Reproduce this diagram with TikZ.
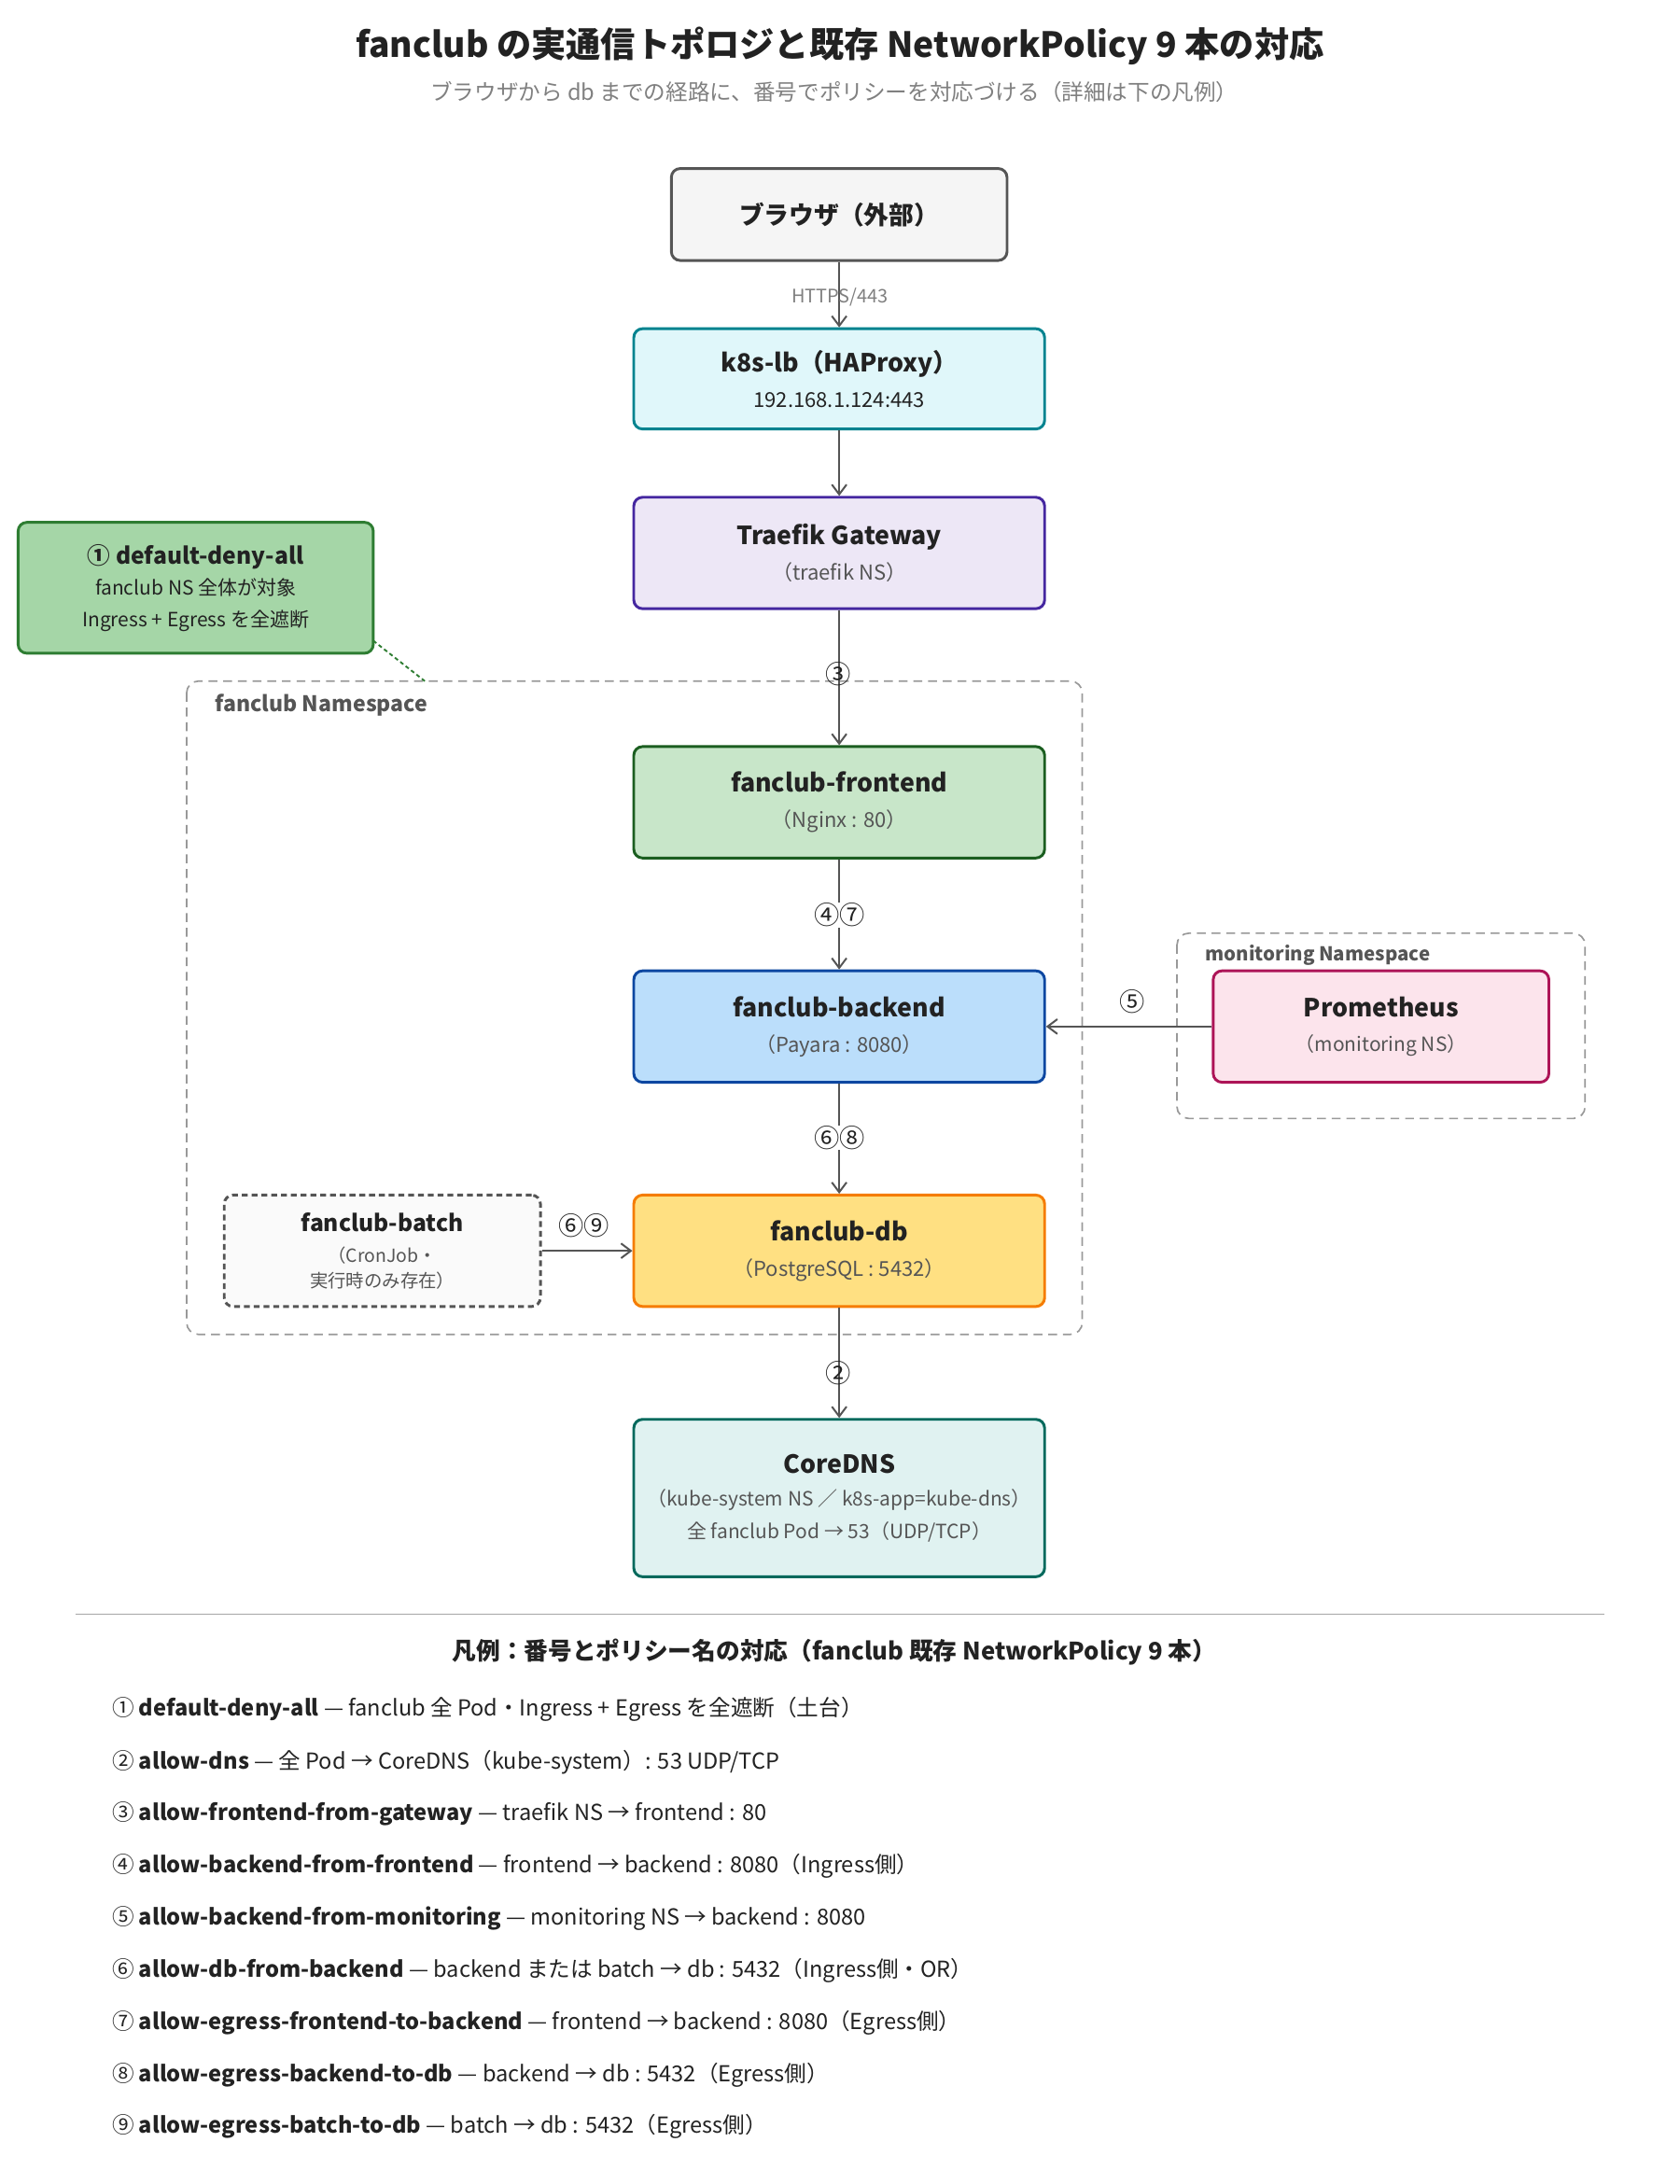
\documentclass[tikz,border=0pt]{standalone}
\usepackage{fontspec}
\setmainfont{Noto Sans CJK JP}
\usetikzlibrary{arrows.meta}
\definecolor{ln}{HTML}{555555}
\definecolor{txt}{HTML}{222222}
\definecolor{sub}{HTML}{555555}
\definecolor{lbD}{HTML}{00838F}\definecolor{lbF}{HTML}{E0F7FA}
\definecolor{trD}{HTML}{4527A0}\definecolor{trF}{HTML}{EDE7F6}
\definecolor{ddD}{HTML}{2E7D32}\definecolor{ddF}{HTML}{A5D6A7}
\definecolor{feD}{HTML}{1B5E20}\definecolor{feF}{HTML}{C8E6C9}
\definecolor{beD}{HTML}{0D47A1}\definecolor{beF}{HTML}{BBDEFB}
\definecolor{prD}{HTML}{AD1457}\definecolor{prF}{HTML}{FCE4EC}
\definecolor{dbD}{HTML}{F57C00}\definecolor{dbF}{HTML}{FFE082}
\definecolor{dnD}{HTML}{00695C}\definecolor{dnF}{HTML}{E0F2F1}
\begin{document}
\begin{tikzpicture}[x=0.05cm,y=-0.05cm,
  box/.style={draw, line width=2.8pt, rounded corners=9pt, align=center, text=txt, inner sep=0pt, font=\fontsize{21}{36}\selectfont},
  arr/.style={draw=ln, line width=1.9pt, -{Straight Barb[length=10pt,width=15pt,line width=1.9pt]}},
  num/.style={font=\fontsize{26}{28}\selectfont, text=txt, inner sep=0.5pt, fill=white},
  ns/.style={draw=gray!80, dash pattern=on 9pt off 6pt, line width=1.6pt, rounded corners=12pt},
  leg/.style={anchor=west, font=\fontsize{22.5}{28}\selectfont, text=txt}]
\useasboundingbox (0,0) rectangle (1206,1568);
\fill[white] (0,0) rectangle (1206,1568);
\node[font=\fontsize{35.5}{40}\selectfont\bfseries, text=txt] (title) at (603,33) {fanclub の実通信トポロジと既存 NetworkPolicy 9 本の対応};
\node[font=\fontsize{22.5}{28}\selectfont, text=gray] (subt) at (599,66) {ブラウザから db までの経路に、番号でポリシーを対応づける（詳細は下の凡例）};
% namespaces
\draw[ns] (134,489) rectangle (777,958);
\node[anchor=west, font=\fontsize{22}{26}\selectfont\bfseries, text=sub] (nsl) at (152,506) {fanclub Namespace};
\draw[ns] (845,670) rectangle (1138,803);
\node[anchor=west, font=\fontsize{19.5}{24}\selectfont\bfseries, text=sub] (nsm) at (863,686) {monitoring Namespace};
% nodes
\node[box, draw=ln, fill=gray!8, minimum width=241*0.05cm, minimum height=66*0.05cm] (br) at (602.5,154) {\fontsize{25.5}{30}\selectfont\bfseries ブラウザ（外部）};
\node[box, draw=lbD, fill=lbF, minimum width=295*0.05cm, minimum height=72*0.05cm] (lb) at (602.5,272) {{\fontsize{25.5}{30}\selectfont\bfseries k8s-lb（HAProxy）}\\{\fontsize{21}{26}\selectfont 192.168.1.124:443}};
\node[box, draw=trD, fill=trF, minimum width=295*0.05cm, minimum height=80*0.05cm] (tr) at (602.5,397) {{\fontsize{25.5}{30}\selectfont\bfseries Traefik Gateway}\\{\fontsize{21}{26}\selectfont\color{sub}（traefik NS）}};
\node[box, draw=ddD, fill=ddF, minimum width=255*0.05cm, minimum height=94*0.05cm] (dd) at (140.5,422) {{\fontsize{23.5}{28}\selectfont\bfseries ① default-deny-all}\\[-4pt]{\fontsize{20}{26}\selectfont fanclub NS 全体が対象}\\[-4pt]{\fontsize{20}{26}\selectfont Ingress + Egress を全遮断}};
\coordinate (ddc) at (305,489);
\coordinate (dds) at (268,460);
\draw[ddD, line width=1.8pt, dash pattern=on 4pt off 3pt] (dds) -- (ddc);
\node[box, draw=feD, fill=feF, minimum width=295*0.05cm, minimum height=80*0.05cm] (fe) at (602.5,576) {{\fontsize{25.5}{30}\selectfont\bfseries fanclub-frontend}\\{\fontsize{21}{26}\selectfont\color{sub}（Nginx : 80）}};
\node[box, draw=beD, fill=beF, minimum width=295*0.05cm, minimum height=80*0.05cm] (be) at (602.5,737) {{\fontsize{25.5}{30}\selectfont\bfseries fanclub-backend}\\{\fontsize{21}{26}\selectfont\color{sub}（Payara : 8080）}};
\node[box, draw=prD, fill=prF, minimum width=241*0.05cm, minimum height=80*0.05cm] (pr) at (991.5,737) {{\fontsize{25.5}{30}\selectfont\bfseries Prometheus}\\{\fontsize{20}{26}\selectfont\color{sub}（monitoring NS）}};
\node[box, draw=dbD, fill=dbF, minimum width=295*0.05cm, minimum height=80*0.05cm] (db) at (602.5,898) {{\fontsize{25.5}{30}\selectfont\bfseries fanclub-db}\\{\fontsize{21}{26}\selectfont\color{sub}（PostgreSQL : 5432）}};
\node[box, draw=ln, dash pattern=on 6pt off 4pt, fill=gray!4, minimum width=227*0.05cm, minimum height=80*0.05cm] (bt) at (274.5,898) {{\fontsize{23.5}{28}\selectfont\bfseries fanclub-batch}\\[-4pt]{\fontsize{18.5}{21}\selectfont\color{sub}（CronJob・}\\[-11pt]{\fontsize{18.5}{21}\selectfont\color{sub}実行時のみ存在）}};
\node[box, draw=dnD, fill=dnF, minimum width=295*0.05cm, minimum height=113*0.05cm] (dns) at (602.5,1075.5) {{\fontsize{25.5}{30}\selectfont\bfseries CoreDNS}\\[-2pt]{\fontsize{20}{26}\selectfont\color{sub}（kube-system NS ／ k8s-app=kube-dns）}\\[-3pt]{\fontsize{20}{26}\selectfont\color{sub}全 fanclub Pod → 53（UDP/TCP）}};
% connectors
\draw[arr] (br) -- (lb);
\node[font=\fontsize{19}{22}\selectfont, text=gray] (https) at (603,213) {HTTPS/443};
\draw[arr] (lb) -- (tr);
\draw[arr] (tr) -- (fe);
\node[num, fill=none] (n3) at (602,484) {③};
\draw[arr] (fe) -- (be);
\node[num] (n47) at (603,657) {④⑦};
\draw[arr] (be) -- (db);
\node[num] (n68) at (603,817) {⑥⑧};
\draw[arr] (pr) -- (be);
\node[num, fill=none] (n5) at (813,719) {⑤};
\draw[arr] (bt) -- (db);
\node[num, fill=none] (n69) at (419,880) {⑥⑨};
\draw[arr] (db) -- (dns);
\node[num, fill=none] (n2) at (602,986) {②};
% legend
\draw[gray!70, line width=1.2pt] (54,1159) -- (1152,1159);
\node[font=\fontsize{24.5}{28}\selectfont\bfseries, text=txt] (lt) at (599,1186) {凡例：番号とポリシー名の対応（fanclub 既存 NetworkPolicy 9 本）};
\node[leg] (l1) at (78,1227) {① \textbf{default-deny-all} — fanclub 全 Pod・Ingress + Egress を全遮断（土台）};
\node[leg] (l2) at (78,1265) {② \textbf{allow-dns} — 全 Pod → CoreDNS（kube-system）: 53 UDP/TCP};
\node[leg] (l3) at (78,1302) {③ \textbf{allow-frontend-from-gateway} — traefik NS → frontend : 80};
\node[leg] (l4) at (78,1340) {④ \textbf{allow-backend-from-frontend} — frontend → backend : 8080（Ingress側）};
\node[leg] (l5) at (78,1377) {⑤ \textbf{allow-backend-from-monitoring} — monitoring NS → backend : 8080};
\node[leg] (l6) at (78,1415) {⑥ \textbf{allow-db-from-backend} — backend または batch → db : 5432（Ingress側・OR）};
\node[leg] (l7) at (78,1452) {⑦ \textbf{allow-egress-frontend-to-backend} — frontend → backend : 8080（Egress側）};
\node[leg] (l8) at (78,1490) {⑧ \textbf{allow-egress-backend-to-db} — backend → db : 5432（Egress側）};
\node[leg] (l9) at (78,1527) {⑨ \textbf{allow-egress-batch-to-db} — batch → db : 5432（Egress側）};
\end{tikzpicture}
\end{document}
